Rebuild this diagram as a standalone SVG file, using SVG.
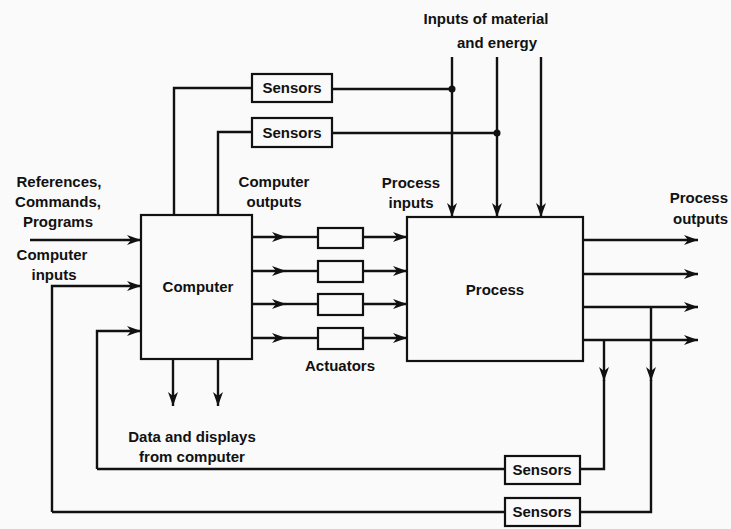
<svg xmlns="http://www.w3.org/2000/svg" width="731" height="529" viewBox="0 0 731 529">
<style>
.box{fill:none;stroke:#111;stroke-width:2.2}
.ln{fill:none;stroke:#111;stroke-width:2.4}
.ar{marker-end:url(#ah)}
text{font-family:"Liberation Sans",Arial,sans-serif;font-size:15px;font-weight:bold;fill:#111;text-anchor:middle}
.r{text-anchor:end}
</style>
<defs>
<marker id="ah" viewBox="0 0 14 10" refX="14" refY="5" markerWidth="14" markerHeight="10" markerUnits="userSpaceOnUse" orient="auto">
<path d="M0,0 L14,5 L0,10 L4,5 z" fill="#111"/>
</marker>
</defs>
<rect width="731" height="529" fill="#fafafa"/>
<g id="computer"><rect class="box" x="141" y="215" width="111" height="144"/><text x="198" y="292">Computer</text></g>
<g id="process"><rect class="box" x="407" y="217" width="176" height="144"/><text x="495" y="295">Process</text></g>
<g id="sensors-top1"><rect class="box" x="252" y="74" width="80" height="28"/><text x="292" y="93">Sensors</text></g>
<g id="sensors-top2"><rect class="box" x="252" y="118" width="80" height="29"/><text x="292" y="138">Sensors</text></g>
<g id="sensors-bot1"><rect class="box" x="505" y="456" width="75" height="28"/><text x="542" y="475">Sensors</text></g>
<g id="sensors-bot2"><rect class="box" x="505" y="498" width="75" height="28"/><text x="542" y="517">Sensors</text></g>
<g id="actuators">
<rect class="box" x="318" y="228" width="45" height="20"/>
<rect class="box" x="318" y="261" width="45" height="21"/>
<rect class="box" x="318" y="294" width="45" height="21"/>
<rect class="box" x="318" y="328" width="45" height="21"/>
<text x="340" y="371">Actuators</text>
</g>
<g id="labels">
<text x="486" y="24">Inputs of material</text>
<text x="497" y="48">and energy</text>
<text x="59" y="187">References,</text>
<text x="58" y="207">Commands,</text>
<text x="58" y="227">Programs</text>
<text x="52" y="260">Computer</text>
<text x="54" y="280">inputs</text>
<text x="274" y="187">Computer</text>
<text x="274" y="207">outputs</text>
<text x="411" y="188">Process</text>
<text x="411" y="208">inputs</text>
<text class="r" x="728" y="203">Process</text>
<text class="r" x="728" y="224">outputs</text>
<text x="192" y="442">Data and displays</text>
<text x="192" y="462">from computer</text>
</g>
<g id="connectors">
<path class="ln" d="M332,89 H452"/>
<path class="ln" d="M332,133 H497"/>
<path class="ln" d="M252,88 H174 V215"/>
<path class="ln" d="M252,132 H218 V215"/>
<path class="ln ar" d="M452,57 V217"/>
<path class="ln ar" d="M497,57 V217"/>
<path class="ln ar" d="M541,57 V217"/>
<circle cx="452" cy="89" r="3.5" fill="#111"/>
<circle cx="497" cy="133" r="3.5" fill="#111"/>
<path class="ln ar" d="M30,240 H141"/>
<path class="ln ar" d="M52,512 V286 H141"/>
<path class="ln ar" d="M97,469 V331 H141"/>
<path class="ln ar" d="M252,237 H286"/><path class="ln" d="M286,237 H318"/>
<path class="ln ar" d="M252,271 H286"/><path class="ln" d="M286,271 H318"/>
<path class="ln ar" d="M252,304 H286"/><path class="ln" d="M286,304 H318"/>
<path class="ln ar" d="M252,338 H286"/><path class="ln" d="M286,338 H318"/>
<path class="ln ar" d="M363,237 H407"/>
<path class="ln ar" d="M363,271 H407"/>
<path class="ln ar" d="M363,304 H407"/>
<path class="ln ar" d="M363,338 H407"/>
<path class="ln ar" d="M583,240 H698"/>
<path class="ln ar" d="M583,274 H698"/>
<path class="ln ar" d="M583,307 H698"/>
<path class="ln ar" d="M583,340 H698"/>
<path class="ln ar" d="M604,340 V381"/><path class="ln" d="M604,380 V469 H580"/>
<path class="ln ar" d="M651,307 V381"/><path class="ln" d="M651,380 V512 H580"/>
<path class="ln" d="M505,469 H97"/>
<path class="ln" d="M505,512 H52"/>
<path class="ln ar" d="M173,359 V406"/>
<path class="ln ar" d="M218,359 V406"/>
</g>
</svg>
